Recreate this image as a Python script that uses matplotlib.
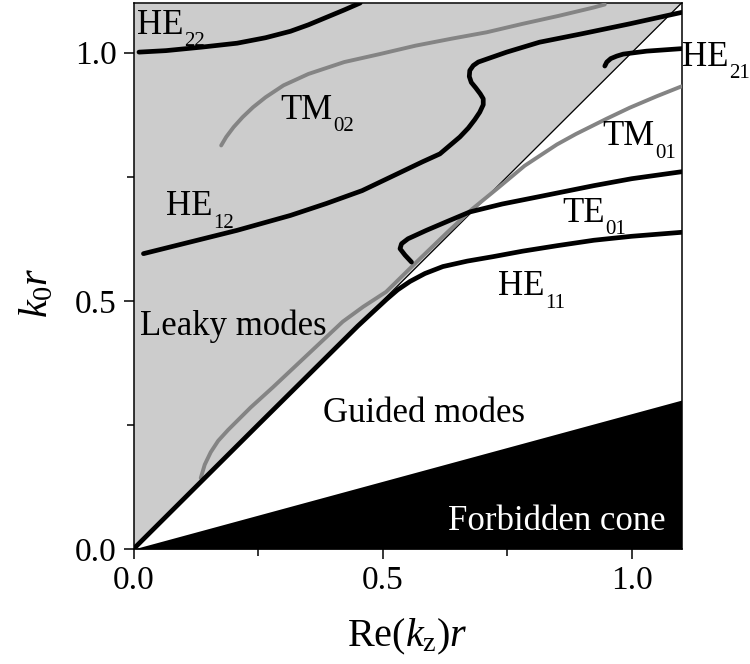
import matplotlib
matplotlib.use('Agg')
import matplotlib.pyplot as plt

plt.rcParams['font.family'] = ['Liberation Serif', 'DejaVu Serif']
plt.rcParams['mathtext.fontset'] = 'custom'
plt.rcParams['mathtext.rm'] = 'Liberation Serif'
plt.rcParams['mathtext.it'] = 'Liberation Serif:italic'
plt.rcParams['mathtext.bf'] = 'Liberation Serif:bold'

# Границы областей: световая линия k0 = kz и край запрещённого конуса
edge_x = [0.0, 1.1]
light_line = [0.0, 1.1]
cone_edge = [0.0, 0.30]

# Дисперсионные кривые мод (Re(kz) r, k0 r)
he22_x = [0.011, 0.065, 0.136, 0.208, 0.265, 0.315, 0.351, 0.387, 0.423, 0.455]
he22_y = [1.001, 1.004, 1.011, 1.019, 1.030, 1.043, 1.056, 1.071, 1.086, 1.100]

tm02_x = [0.176, 0.186, 0.201, 0.219, 0.240, 0.265, 0.301, 0.351, 0.423, 0.494,
          0.566, 0.638, 0.709, 0.781, 0.853, 0.924, 0.946]
tm02_y = [0.813, 0.830, 0.850, 0.870, 0.890, 0.910, 0.934, 0.957, 0.981, 0.997,
          1.014, 1.028, 1.041, 1.058, 1.074, 1.091, 1.097]

he12_x = [0.020, 0.100, 0.208, 0.315, 0.387, 0.459, 0.530, 0.580, 0.615, 0.635,
          0.655, 0.672, 0.685, 0.695, 0.702, 0.702, 0.696, 0.687, 0.678, 0.674,
          0.675, 0.682, 0.692, 0.709, 0.729, 0.749, 0.782, 0.815, 0.900, 0.996,
          1.100]
he12_y = [0.595, 0.615, 0.642, 0.672, 0.696, 0.722, 0.756, 0.780, 0.796, 0.813,
          0.830, 0.848, 0.865, 0.880, 0.895, 0.907, 0.917, 0.929, 0.940, 0.952,
          0.964, 0.974, 0.981, 0.987, 0.994, 1.001, 1.011, 1.021, 1.038, 1.058,
          1.081]

he21_x = [0.946, 0.950, 0.958, 0.970, 0.983, 1.030, 1.100]
he21_y = [0.973, 0.981, 0.988, 0.993, 0.997, 1.003, 1.008]

tm01_x = [0.135, 0.143, 0.155, 0.170, 0.190, 0.235, 0.280, 0.350, 0.420, 0.461,
          0.507, 0.571, 0.630, 0.680, 0.730, 0.785, 0.850, 0.888, 0.950, 0.996,
          1.050, 1.100]
tm01_y = [0.143, 0.170, 0.195, 0.218, 0.240, 0.285, 0.326, 0.392, 0.458, 0.488,
          0.518, 0.581, 0.638, 0.685, 0.726, 0.772, 0.815, 0.836, 0.867, 0.889,
          0.912, 0.932]

te01_x = [0.558, 0.545, 0.535, 0.538, 0.551, 0.588, 0.630, 0.675, 0.740, 0.815,
          0.924, 1.000, 1.100]
te01_y = [0.578, 0.592, 0.605, 0.615, 0.625, 0.642, 0.660, 0.679, 0.695, 0.710,
          0.732, 0.746, 0.760]

he11_x = [0.000, 0.250, 0.450, 0.480, 0.508, 0.530, 0.555, 0.585, 0.621, 0.670,
          0.722, 0.781, 0.850, 0.924, 1.000, 1.100]
he11_y = [0.000, 0.250, 0.449, 0.477, 0.503, 0.522, 0.539, 0.555, 0.569, 0.580,
          0.589, 0.600, 0.611, 0.622, 0.630, 0.638]

fig = plt.figure(figsize=(7.5, 6.64), dpi=100)
ax = fig.add_axes([0.178, 0.1732, 0.7307, 0.8223])

# области: вытекающие моды (серая) и запрещённый конус (чёрная)
ax.fill_between(edge_x, light_line, 1.1, color='#cccccc', lw=0, zorder=0)
ax.fill_between(edge_x, 0, cone_edge, color='black', lw=0, zorder=1)
ax.plot(edge_x, light_line, color='black', lw=0.9, zorder=2)

grey = '#848484'
ax.plot(tm02_x, tm02_y, color=grey, lw=2.8, solid_capstyle='round',
        solid_joinstyle='round', zorder=3)
ax.plot(tm01_x, tm01_y, color=grey, lw=2.8, solid_capstyle='round',
        solid_joinstyle='round', zorder=3)

for xs, ys in [(he22_x, he22_y), (he12_x, he12_y), (he21_x, he21_y),
               (te01_x, te01_y), (he11_x, he11_y)]:
    ax.plot(xs, ys, color='black', lw=3.4, solid_capstyle='round',
            solid_joinstyle='round', zorder=4)


def mode_label(x, y, name, sub):
    # подпись моды с глубоким нижним индексом
    t = ax.text(x, y, name, fontsize=25, va='baseline', clip_on=False, zorder=5)
    ax.annotate(sub, xy=(1, 0), xycoords=t, xytext=(0.5, -3.2),
                textcoords='offset points', fontsize=15, va='baseline',
                ha='left', zorder=5)


mode_label(0.007, 1.038, 'HE', '22')
mode_label(0.294, 0.867, 'TM', '02')
mode_label(0.065, 0.672, 'HE', '12')
mode_label(0.942, 0.813, 'TM', '01')
mode_label(1.101, 0.974, 'HE', '21')
mode_label(0.860, 0.659, 'TE', '01')
mode_label(0.731, 0.511, 'HE', '11')

fs = 25
ax.text(0.013, 0.431, 'Leaky modes', fontsize=fs)
ax.text(0.380, 0.256, 'Guided modes', fontsize=fs)
ax.text(0.631, 0.038, 'Forbidden cone', fontsize=fs, color='white', zorder=5)

ax.set_xlim(0, 1.1)
ax.set_ylim(0, 1.1)
ax.set_xticks([0.0, 0.5, 1.0])
ax.set_yticks([0.0, 0.5, 1.0])
ax.set_xticklabels(['0.0', '0.5', '1.0'])
ax.set_yticklabels(['0.0', '0.5', '1.0'])
ax.set_xticks([0.25, 0.75], minor=True)
ax.set_yticks([0.25, 0.75], minor=True)
ax.tick_params(which='major', direction='out', length=7, width=1.1,
               labelsize=24, pad=5)
ax.tick_params(which='minor', direction='out', length=5, width=1.1)
for s in ax.spines.values():
    s.set_linewidth(1.1)

ax.set_xlabel(r'Re($k_\mathrm{z}$)$r$', fontsize=29)
ax.set_ylabel(r'$k_0r$', fontsize=29)
ax.xaxis.set_label_coords(0.5, -0.125)
ax.yaxis.set_label_coords(-0.14, 0.47)

fig.savefig('out.png', dpi=100)
